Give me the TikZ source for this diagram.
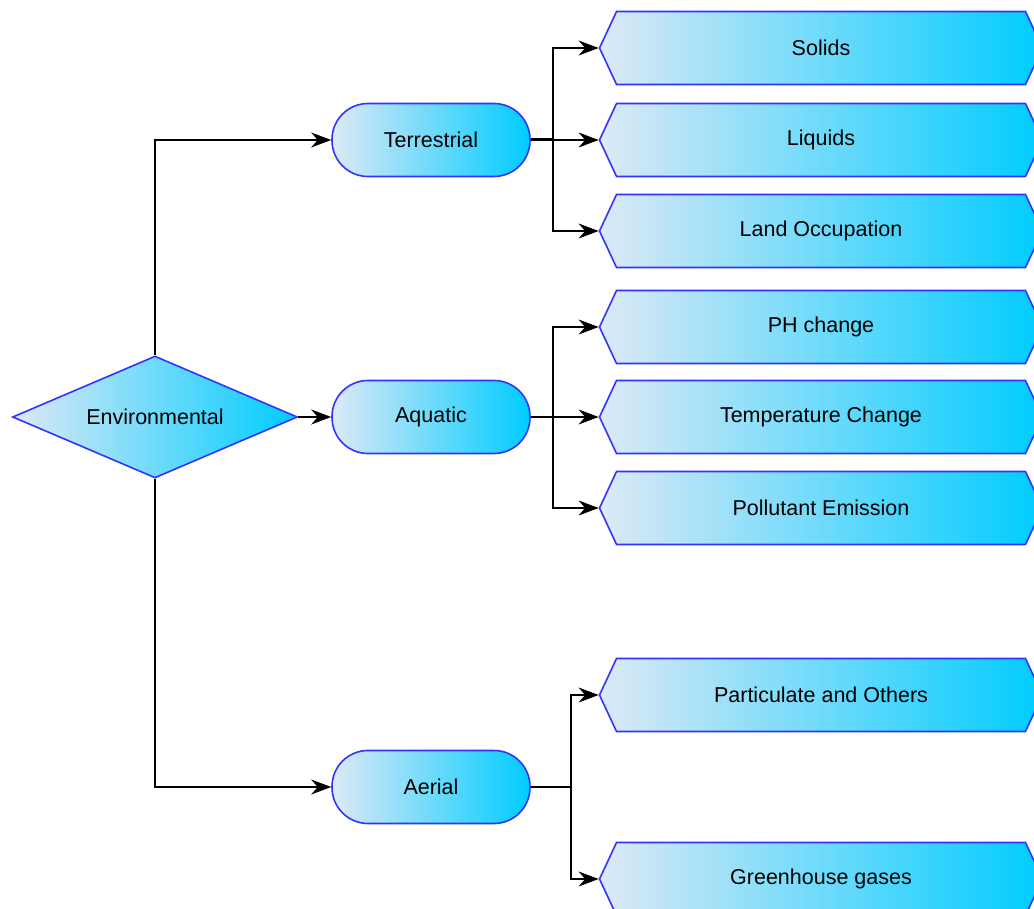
\documentclass[tikz,border=0pt]{standalone}
\usepackage{fontspec}
\setmainfont{Liberation Sans}
\usetikzlibrary{shapes.geometric,shapes.symbols,arrows.meta}
\definecolor{boxlight}{HTML}{DDE9F6}
\definecolor{boxcyan}{HTML}{00CCFF}
\definecolor{boxline}{HTML}{3333FF}
\begin{document}
\begin{tikzpicture}[x=1pt,y=-1pt,
    every node/.style={font=\fontsize{21.5}{26}\selectfont},
    shadebox/.style={draw=boxline,line width=1.6pt,left color=boxlight,right color=boxcyan},
    decision/.style={shadebox,diamond,aspect=2.34,minimum width=285pt,minimum height=122pt,inner sep=0pt},
    group/.style={shadebox,rectangle,rounded corners=36pt,minimum width=198pt,minimum height=73pt},
    item/.style={shadebox,signal,signal to=west and east,signal pointer angle=130,minimum width=443pt,minimum height=73pt},
    link/.style={line width=1.5pt,-{Stealth[length=20pt,width=15pt]}}]
    \useasboundingbox (0,0) rectangle (1034,909);
    % root and groups
    \node[decision] (env) at (155,417) {Environmental};
    \node[group] (ter) at (431,140) {Terrestrial};
    \node[group] (aqu) at (431,417) {Aquatic};
    \node[group] (aer) at (431,787) {Aerial};
    % items
    \node[item] (sol) at (821,48) {Solids};
    \node[item] (liq) at (821,140) {Liquids};
    \node[item] (land) at (821,231) {Land Occupation};
    \node[item] (ph) at (821,327) {PH change};
    \node[item] (temp) at (821,417) {Temperature Change};
    \node[item] (pol) at (821,508) {Pollutant Emission};
    \node[item] (part) at (821,695) {Particulate and Others};
    \node[item] (green) at (821,879) {Greenhouse gases};
    % connectors
    \draw[link] (env.north) |- (ter.west);
    \draw[link] (env.east) -- (aqu.west);
    \draw[link] (env.south) |- (aer.west);
    \coordinate (tbus) at (553,140);
    \coordinate (abus) at (553,417);
    \coordinate (ebus) at (571,787);
    \draw[line width=3pt] (ter.east) -- (tbus);
    \draw[line width=1.5pt] (aqu.east) -- (abus);
    \draw[line width=1.5pt] (aer.east) -- (ebus);
    \draw[link] (tbus) |- (sol.west);
    \draw[link] (tbus) -- (liq.west);
    \draw[link] (tbus) |- (land.west);
    \draw[link] (abus) |- (ph.west);
    \draw[link] (abus) -- (temp.west);
    \draw[link] (abus) |- (pol.west);
    \draw[link] (ebus) |- (part.west);
    \draw[link] (ebus) |- (green.west);
\end{tikzpicture}
\end{document}
